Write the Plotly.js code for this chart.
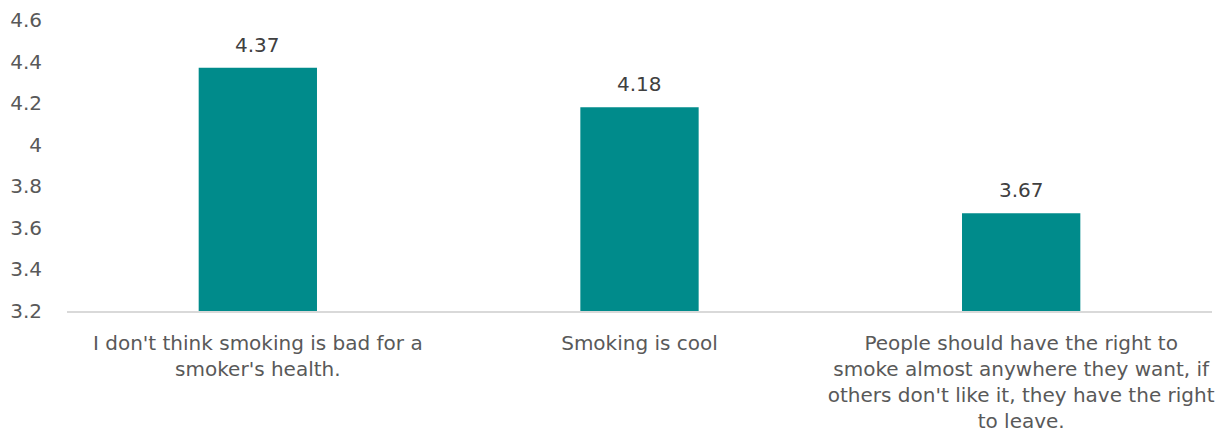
<!DOCTYPE html>
<html>
<head>
<meta charset="utf-8">
<script src="https://cdn.plot.ly/plotly-3.0.1.min.js"></script>
<style>html,body{margin:0;padding:0;background:#fff;}#chart{width:1220px;height:433px;}</style>
</head>
<body>
<div id="chart"></div>
<script>
const categories = [
  "I don't think smoking is bad for a<br>smoker's health.",
  "Smoking is cool",
  "People should have the right to<br>smoke almost anywhere they want, if<br>others don't like it, they have the right<br>to leave."
];
const values = [4.37, 4.18, 3.67];
const valueLabels = ["4.37", "4.18", "3.67"];
const yTicks = [3.2, 3.4, 3.6, 3.8, 4, 4.2, 4.4, 4.6];
const yTickText = ["3.2", "3.4", "3.6", "3.8", "4", "4.2", "4.4", "4.6"];

const FONT = 'DejaVu Sans, Liberation Sans, Arial, sans-serif';

const trace = {
  type: 'bar',
  x: categories,
  y: values,
  marker: {color: '#008B8B'},
  hoverinfo: 'none'
};

const annotations = categories.map((c, i) => ({
  x: c, y: values[i], xref: 'x', yref: 'y',
  text: valueLabels[i], showarrow: false,
  yanchor: 'bottom', yshift: 9,
  font: {family: FONT, size: 20, color: '#404040'}
}));

const layout = {
  width: 1220, height: 433,
  margin: {l: 67, r: 8, t: 20, b: 122},
  paper_bgcolor: '#fff', plot_bgcolor: '#fff',
  bargap: 0.69,
  showlegend: false,
  font: {family: FONT, size: 20, color: '#595959'},
  annotations: annotations,
  xaxis: {
    showline: true, linecolor: '#d9d9d9', linewidth: 1.5,
    showgrid: false, zeroline: false, ticks: '',
    ticklabelstandoff: 13,
    tickfont: {family: FONT, size: 20, color: '#595959'},
    automargin: false
  },
  yaxis: {
    range: [3.2, 4.6],
    tickvals: yTicks, ticktext: yTickText,
    showgrid: false, zeroline: false, showline: false,
    ticks: 'outside', ticklen: 20, tickcolor: 'rgba(0,0,0,0)',
    tickfont: {family: FONT, size: 20, color: '#595959'},
    automargin: false
  }
};

Plotly.newPlot('chart', [trace], layout, {displayModeBar: false, staticPlot: true});
</script>
</body>
</html>
